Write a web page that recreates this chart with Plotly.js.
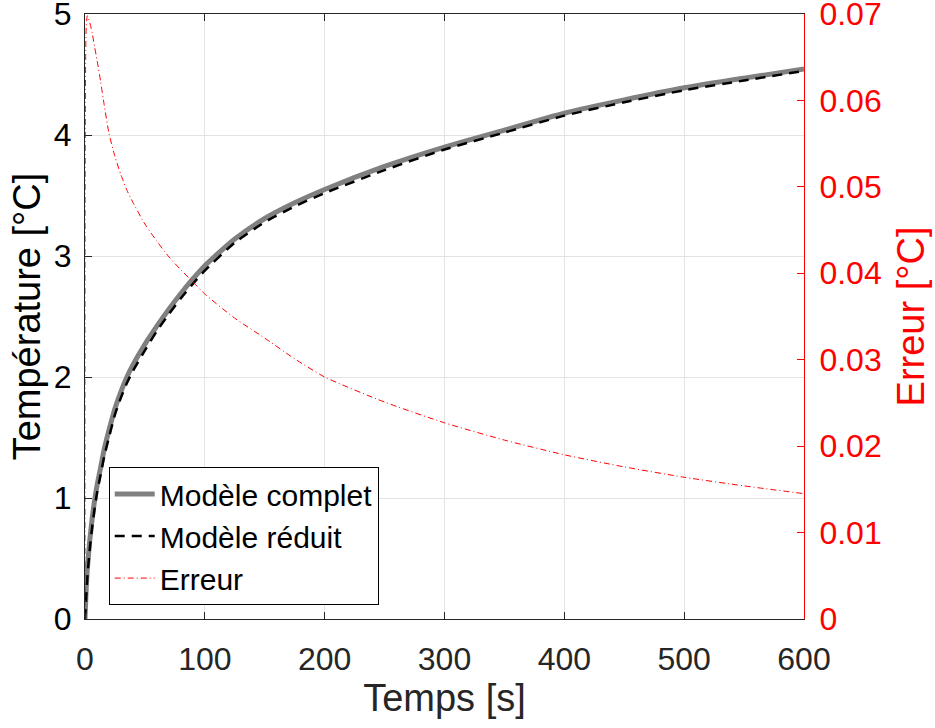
<!DOCTYPE html>
<html>
<head>
<meta charset="utf-8">
<script src="https://cdn.plot.ly/plotly-3.0.1.min.js"></script>
<style>
html,body{margin:0;padding:0;background:#fff;}
#chart{width:935px;height:728px;}
</style>
</head>
<body>
<div id="chart"></div>
<script>
// Time [s]
var time = [0,1,2,4,6,8,10,13,16,20,25,30,35,40,50,60,70,80,90,100,125,150,175,200,250,300,350,400,450,500,550,600];
// Modèle complet [°C]
var complet = [0,0.25,0.42,0.65,0.83,0.98,1.10,1.25,1.40,1.56,1.74,1.88,2.00,2.10,2.27,2.42,2.56,2.69,2.81,2.92,3.14,3.31,3.44,3.55,3.74,3.90,4.04,4.18,4.29,4.39,4.47,4.545];
// Modèle réduit [°C]
var reduit = [0,0.18,0.35,0.58,0.76,0.91,1.04,1.19,1.34,1.50,1.69,1.83,1.95,2.05,2.22,2.38,2.52,2.65,2.77,2.88,3.11,3.28,3.41,3.52,3.71,3.88,4.02,4.16,4.27,4.37,4.45,4.53];
// Erreur [°C]
var erreur = [0,0.0685,0.0698,0.0690,0.0678,0.0662,0.0647,0.0622,0.0595,0.0562,0.0535,0.0514,0.0496,0.0482,0.0457,0.0437,0.0419,0.0404,0.0390,0.0376,0.0348,0.0325,0.0301,0.0280,0.0251,0.0227,0.0207,0.0190,0.0176,0.0164,0.0154,0.0145];

var names = ['Modèle complet','Modèle réduit','Erreur'];
var xTicks = [0,100,200,300,400,500,600];
var yTicks = [0,1,2,3,4,5];
var y2Ticks = [0,0.01,0.02,0.03,0.04,0.05,0.06,0.07];
var y2TickText = ['0','0.01','0.02','0.03','0.04','0.05','0.06','0.07'];

var FONT = 'Liberation Sans, Arial, Helvetica, sans-serif';

var traces = [
  {x: time, y: complet, name: names[0], type: 'scatter', mode: 'lines',
   line: {color: '#808080', width: 5, shape: 'spline', smoothing: 0.6}},
  {x: time, y: reduit, name: names[1], type: 'scatter', mode: 'lines',
   line: {color: '#000000', width: 2.5, dash: '10px,7px', shape: 'spline', smoothing: 0.6}},
  {x: time, y: erreur, name: names[2], type: 'scatter', mode: 'lines', yaxis: 'y2',
   line: {color: '#ff0000', width: 1, dash: '6px,3px,1px,3px', shape: 'spline', smoothing: 0.6}}
];

var layout = {
  width: 935, height: 728,
  margin: {l: 85, r: 131, t: 14, b: 109, pad: 0},
  paper_bgcolor: '#ffffff', plot_bgcolor: '#ffffff',
  font: {family: FONT, size: 32, color: '#000000'},
  showlegend: true,
  legend: {
    x: 0.033, y: 0.023, xanchor: 'left', yanchor: 'bottom',
    bgcolor: '#ffffff', bordercolor: '#000000', borderwidth: 1,
    font: {family: FONT, size: 30, color: '#000000'},
    itemwidth: 40,
    tracegroupgap: 0
  },
  xaxis: {
    range: [0, 600], tickvals: xTicks, ticktext: xTicks.map(String),
    showgrid: true, gridcolor: '#e3e3e3', gridwidth: 1, zeroline: false,
    showline: true, linecolor: '#262626', linewidth: 1, mirror: 'ticks',
    ticks: 'inside', ticklen: 7, tickcolor: '#262626', tickwidth: 1,
    tickfont: {family: FONT, size: 32, color: '#262626'},
    ticklabelstandoff: 12, ticklabeloverflow: 'allow',
    title: {text: 'Temps [s]', font: {family: FONT, size: 38, color: '#262626'}, standoff: 6},
    automargin: false
  },
  yaxis: {
    range: [0, 5], tickvals: yTicks, ticktext: yTicks.map(String),
    showgrid: true, gridcolor: '#e3e3e3', gridwidth: 1, zeroline: false,
    showline: true, linecolor: '#262626', linewidth: 1,
    ticks: 'inside', ticklen: 7, tickcolor: '#262626', tickwidth: 1,
    tickfont: {family: FONT, size: 32, color: '#000000'},
    ticklabelstandoff: 6, ticklabeloverflow: 'allow',
    title: {text: 'Température [°C]', font: {family: FONT, size: 38, color: '#000000'}, standoff: 1},
    automargin: false
  },
  yaxis2: {
    range: [0, 0.07], tickvals: y2Ticks, ticktext: y2TickText,
    overlaying: 'y', side: 'right', anchor: 'x',
    showgrid: false, zeroline: false,
    showline: true, linecolor: '#ff0000', linewidth: 1,
    ticks: 'inside', ticklen: 7, tickcolor: '#ff0000', tickwidth: 1,
    tickfont: {family: FONT, size: 32, color: '#ff0000'},
    ticklabelstandoff: 8, ticklabeloverflow: 'allow',
    title: {text: 'Erreur [°C]', font: {family: FONT, size: 38, color: '#ff0000'}, standoff: 16},
    automargin: false
  }
};

Plotly.newPlot('chart', traces, layout, {displayModeBar: false, staticPlot: true});
</script>
</body>
</html>
